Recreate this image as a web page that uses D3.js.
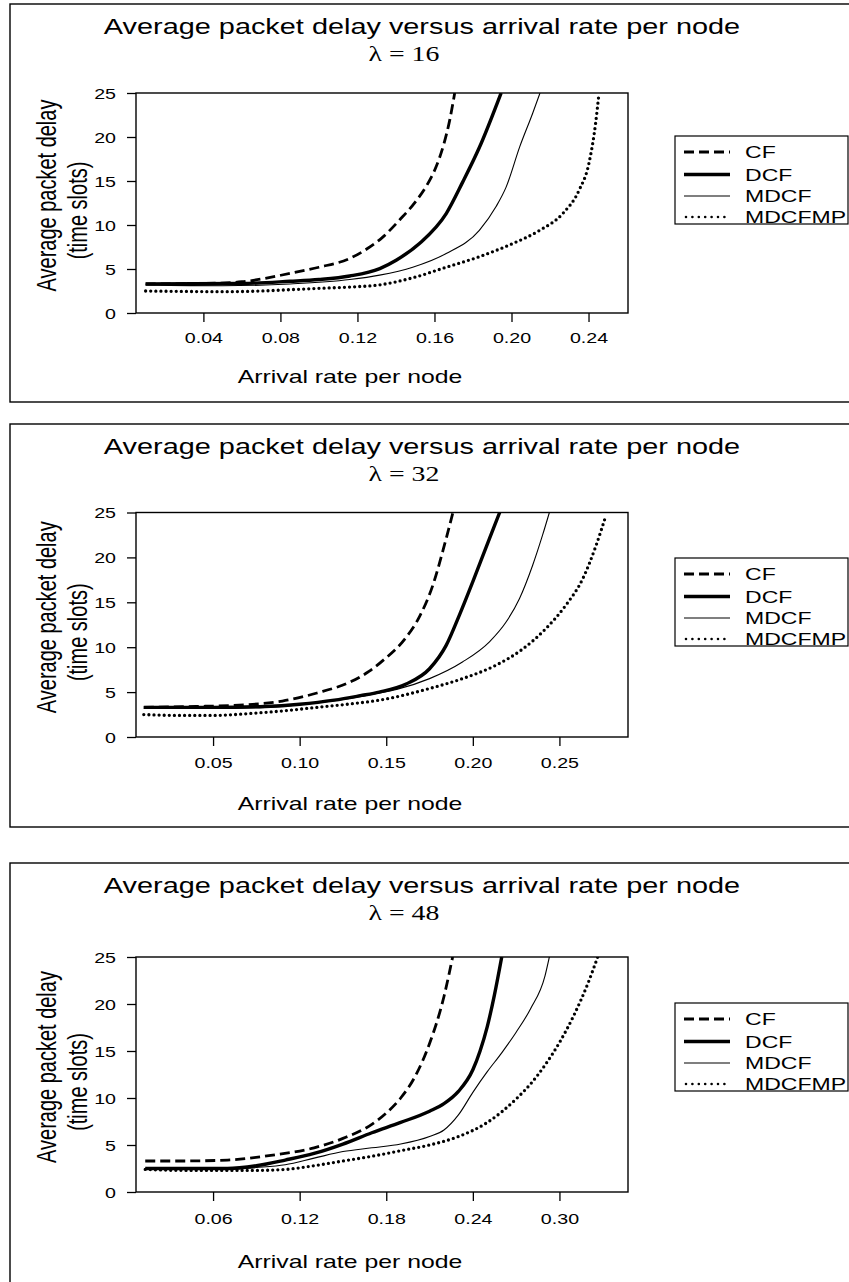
<!DOCTYPE html>
<html>
<head>
<script src="https://d3js.org/d3.v7.min.js"></script>
<style>
  body { margin: 0; background: #fff; }
  text { font-family: "Liberation Sans", Arial, sans-serif; fill: #000; }
  text.serif { font-family: "Liberation Serif", "DejaVu Serif", serif; }
</style>
</head>
<body>
<svg id="chart" width="849" height="1282"></svg>
<script>
// ---- data ----
var seriesNames = ["CF", "DCF", "MDCF", "MDCFMP"];
var lambdaValues = [16, 32, 48];
var yTicks = [0, 5, 10, 15, 20, 25];

var xTicks16 = [0.04, 0.08, 0.12, 0.16, 0.20, 0.24];
var xTicks32 = [0.05, 0.10, 0.15, 0.20, 0.25];
var xTicks48 = [0.06, 0.12, 0.18, 0.24, 0.30];

var xDomain16 = [0.005, 0.2605];
var xDomain32 = [0.0055, 0.2896];
var xDomain48 = [0.0066, 0.3475];

// lambda = 16
var cf16 = [[0.01,3.3],[0.04,3.35],[0.06,3.55],[0.085,4.5],[0.10,5.2],[0.116,6.2],[0.125,7.3],[0.133,8.6],[0.142,10.6],[0.150,12.6],[0.156,14.5],[0.161,16.7],[0.165,19.3],[0.168,22.0],[0.1705,25]];
var dcf16 = [[0.01,3.3],[0.06,3.35],[0.085,3.6],[0.10,3.8],[0.116,4.2],[0.1316,5.05],[0.1401,6.0],[0.1522,7.9],[0.1661,11.3],[0.1747,14.9],[0.1833,18.8],[0.1946,25]];
var mdcf16 = [[0.01,3.2],[0.05,3.1],[0.085,3.3],[0.116,3.8],[0.1315,4.3],[0.1487,5.2],[0.1661,6.76],[0.1833,9.4],[0.192,12.1],[0.1972,14.3],[0.2043,18.9],[0.211,22.7],[0.2148,25]];
var mdcfmp16 = [[0.01,2.5],[0.03,2.45],[0.05,2.42],[0.07,2.5],[0.085,2.65],[0.10,2.8],[0.116,2.95],[0.1315,3.2],[0.1487,4.0],[0.1661,5.2],[0.1833,6.4],[0.2007,7.9],[0.2147,9.4],[0.2266,11.3],[0.2352,14.0],[0.2402,17.0],[0.2437,21.6],[0.2452,24.5]];

// lambda = 32
var cf32 = [[0.01,3.3],[0.04,3.4],[0.07,3.6],[0.09,4.0],[0.11,4.9],[0.13,6.2],[0.14,7.3],[0.148,8.5],[0.1615,11.1],[0.1692,13.4],[0.1769,16.9],[0.1828,20.8],[0.1885,25]];
var dcf32 = [[0.01,3.3],[0.05,3.3],[0.08,3.4],[0.10,3.65],[0.12,4.1],[0.135,4.6],[0.146,5.0],[0.1615,5.9],[0.175,7.6],[0.1846,10.2],[0.1923,13.6],[0.20,17.3],[0.2096,22.1],[0.2155,25]];
var mdcf32 = [[0.01,3.2],[0.05,3.2],[0.08,3.3],[0.10,3.6],[0.12,4.05],[0.135,4.5],[0.146,4.9],[0.156,5.3],[0.175,6.5],[0.194,8.35],[0.2096,10.6],[0.2192,12.8],[0.2269,15.4],[0.2345,19.1],[0.2403,22.5],[0.2442,25]];
var mdcfmp32 = [[0.01,2.5],[0.03,2.4],[0.05,2.4],[0.07,2.6],[0.09,2.9],[0.11,3.3],[0.13,3.7],[0.146,4.1],[0.175,5.4],[0.194,6.5],[0.2134,8.0],[0.2288,9.8],[0.2423,12.1],[0.2538,14.7],[0.2634,17.6],[0.2711,21.3],[0.2769,24.7]];

// lambda = 48
var cf48 = [[0.013,3.3],[0.04,3.3],[0.07,3.4],[0.10,3.9],[0.13,4.7],[0.15,5.7],[0.17,7.2],[0.18,8.4],[0.19,10.0],[0.20,12.3],[0.21,15.8],[0.22,20.8],[0.226,25]];
var dcf48 = [[0.013,2.5],[0.04,2.5],[0.07,2.5],[0.09,2.8],[0.11,3.4],[0.13,4.1],[0.15,5.1],[0.17,6.3],[0.19,7.4],[0.21,8.6],[0.22,9.4],[0.23,10.7],[0.24,13.0],[0.245,15.0],[0.25,17.6],[0.255,21],[0.26,25]];
var mdcf48 = [[0.013,2.5],[0.04,2.4],[0.07,2.4],[0.09,2.6],[0.11,2.9],[0.13,3.6],[0.15,4.3],[0.17,4.7],[0.19,5.1],[0.21,5.9],[0.22,6.6],[0.23,8.2],[0.24,10.6],[0.25,12.8],[0.26,14.8],[0.27,17.0],[0.28,19.5],[0.29,23.0],[0.293,25]];
var mdcfmp48 = [[0.013,2.4],[0.04,2.3],[0.07,2.3],[0.09,2.3],[0.11,2.4],[0.13,2.8],[0.15,3.3],[0.17,3.8],[0.19,4.4],[0.21,5.0],[0.23,5.9],[0.25,7.4],[0.27,9.9],[0.28,11.5],[0.29,13.5],[0.30,15.9],[0.31,18.8],[0.32,22.3],[0.3265,25]];

var panels = [
  {lambda: lambdaValues[0], ticks: xTicks16, domain: xDomain16, series: [cf16, dcf16, mdcf16, mdcfmp16]},
  {lambda: lambdaValues[1], ticks: xTicks32, domain: xDomain32, series: [cf32, dcf32, mdcf32, mdcfmp32]},
  {lambda: lambdaValues[2], ticks: xTicks48, domain: xDomain48, series: [cf48, dcf48, mdcf48, mdcfmp48]}
];

// ---- layout ----
var sx = 1.355; // the source picture is stretched sideways, text too
var plotLeft = 136, plotRight = 628;
var layout = [
  {top: 4,   bottom: 402,  plotTop: 93,  plotBottom: 313,  tickY: 343,  xlabelY: 383,  legendTop: 136},
  {top: 424, bottom: 827,  plotTop: 512.5, plotBottom: 737, tickY: 768, xlabelY: 810, legendTop: 558},
  {top: 863, bottom: 1320, plotTop: 957, plotBottom: 1192, tickY: 1224, xlabelY: 1268, legendTop: 1003}
];
var styles = [
  {w: 2.8, dash: "10,5", cap: "butt"},
  {w: 3.4, dash: null, cap: "butt"},
  {w: 1.1, dash: null, cap: "butt"},
  {w: 3.3, dash: "0,5.1", cap: "round"}
];
var legendRows = [16, 38.5, 60, 81];

var svg = d3.select("#chart");
svg.append("rect").attr("width", 849).attr("height", 1282).attr("fill", "#fff");

function label(g, x, y, str, size, anchor, rot) {
  return g.append("text")
    .attr("transform", `translate(${x},${y}) scale(${sx},1)` + (rot ? " rotate(-90)" : ""))
    .attr("text-anchor", anchor)
    .style("font-size", size + "px")
    .text(str);
}

panels.forEach(function(p, i) {
  var L = layout[i];
  var g = svg.append("g");

  // outer frame (right edge is off the picture)
  g.append("rect").attr("x", 10).attr("y", L.top).attr("width", 900).attr("height", L.bottom - L.top)
    .attr("fill", "none").attr("stroke", "#000").attr("stroke-width", 1.4);

  var x = d3.scaleLinear().domain(p.domain).range([plotLeft, plotRight]);
  var y = d3.scaleLinear().domain([0, 25]).range([L.plotBottom, L.plotTop]);

  // titles
  label(g, 422, L.top + 30, "Average packet delay versus arrival rate per node", 21.3, "middle");
  label(g, 404, L.top + 57, "\u03BB = " + p.lambda, 20.5, "middle").attr("class", "serif");

  // axes
  var xa = g.append("g").attr("transform", `translate(0,${L.plotBottom})`)
    .call(d3.axisBottom(x).tickValues(p.ticks).tickFormat(d3.format(".2f")).tickSize(9).tickSizeOuter(0));
  xa.select(".domain").remove();
  xa.selectAll("line").attr("stroke-width", 1.3);
  xa.selectAll("text").attr("y", L.tickY - L.plotBottom).attr("dy", 0)
    .attr("transform", `scale(${sx},1)`).style("font-size", "14.5px");

  var ya = g.append("g").attr("transform", `translate(${plotLeft},0)`)
    .call(d3.axisLeft(y).tickValues(yTicks).tickSize(9).tickSizeOuter(0));
  ya.select(".domain").remove();
  ya.selectAll("line").attr("stroke-width", 1.3);
  ya.selectAll("text").attr("x", 0).attr("dy", "0.35em")
    .attr("transform", `translate(-20,0) scale(${sx},1)`).style("font-size", "14.5px");

  // axis titles
  var midY = (L.plotTop + L.plotBottom) / 2;
  label(g, 56, midY - 7.5, "Average packet delay", 20, "middle", true);
  label(g, 87, midY + 7.5, "(time slots)", 20, "middle", true);
  label(g, 350, L.xlabelY, "Arrival rate per node", 18.3, "middle");

  // curves
  var clipId = "clip" + i;
  g.append("clipPath").attr("id", clipId).append("rect")
    .attr("x", plotLeft).attr("y", L.plotTop).attr("width", plotRight - plotLeft).attr("height", L.plotBottom - L.plotTop);
  var line = d3.line().x(d => x(d[0])).y(d => y(d[1])).curve(d3.curveMonotoneX);
  p.series.forEach(function(s, k) {
    g.append("path").attr("clip-path", `url(#${clipId})`)
      .attr("d", line(s)).attr("fill", "none").attr("stroke", "#000")
      .attr("stroke-width", styles[k].w).attr("stroke-dasharray", styles[k].dash)
      .attr("stroke-linecap", styles[k].cap);
  });

  // plot box
  g.append("rect").attr("x", plotLeft).attr("y", L.plotTop)
    .attr("width", plotRight - plotLeft).attr("height", L.plotBottom - L.plotTop)
    .attr("fill", "none").attr("stroke", "#000").attr("stroke-width", 1.4);

  // legend
  g.append("rect").attr("x", 675).attr("y", L.legendTop).attr("width", 173).attr("height", 88)
    .attr("fill", "#fff").attr("stroke", "#000").attr("stroke-width", 1.2);
  seriesNames.forEach(function(name, k) {
    var ly = L.legendTop + legendRows[k];
    g.append("line").attr("x1", k == 3 ? 686 : 684).attr("x2", 730).attr("y1", ly).attr("y2", ly)
      .attr("stroke", "#000").attr("stroke-width", k == 3 ? 2.6 : styles[k].w)
      .attr("stroke-dasharray", k == 3 ? "0,6.4" : styles[k].dash)
      .attr("stroke-linecap", styles[k].cap);
    label(g, 745, ly + 6, name, 17, "start");
  });
});
</script>
</body>
</html>
